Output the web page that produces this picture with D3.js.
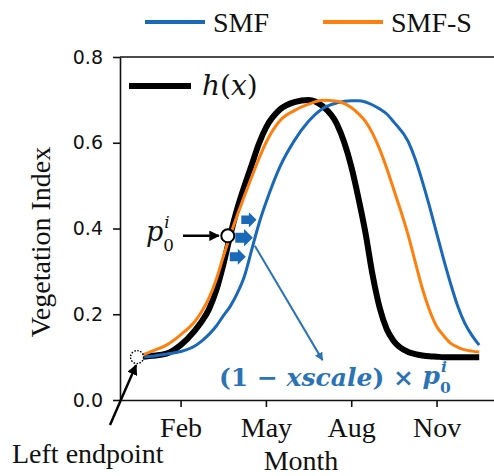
<!DOCTYPE html>
<html lang="en">
  <head>
    <meta charset="UTF-8" />
    <title>SMF vs SMF-S</title>
    <script src="https://d3js.org/d3.v7.min.js"></script>
    <style>
      body { margin: 0; background: #fff; }
      svg { display: block; background: #fff; }
      .axis path, .axis line { stroke: #111; stroke-width: 1.6px; }
      .yaxis text { font-family: "DejaVu Sans", sans-serif; font-size: 19px; fill: #111; }
      .xaxis text { font-family: "Liberation Serif", "Times New Roman", serif; font-size: 28px; fill: #111; }
      .serif { font-family: "Liberation Serif", "Times New Roman", serif; font-size: 28px; fill: #111; }
      .math { font-family: "DejaVu Serif", serif; }
    </style>
  </head>
  <body>
    <svg id="chart" width="494" height="476"></svg>

    <script>
      // 1. Data (x = month number, Jan = 1)
      const months = [0.47, 1, 1.5, 2, 2.5, 2.75, 3, 3.25, 3.5, 3.75, 4, 4.25, 4.5, 4.75, 5, 5.5, 6, 6.5, 7,
        7.5, 8, 8.25, 8.5, 8.75, 9, 9.25, 9.5, 10, 10.25, 10.5, 10.75, 11, 11.25, 11.5, 11.75, 12, 12.25, 12.5];
      const hValues = [0.100, 0.103, 0.108, 0.128, 0.162, 0.184, 0.212, 0.255, 0.315, 0.385, 0.448, 0.500, 0.548,
        0.597, 0.635, 0.678, 0.695, 0.700, 0.685, 0.643, 0.545, 0.472, 0.390, 0.292, 0.215, 0.165, 0.137,
        0.112, 0.107, 0.104, 0.102, 0.101, 0.100, 0.100, 0.100, 0.100, 0.100, 0.100];
      const smfValues = [0.100, 0.102, 0.107, 0.113, 0.126, 0.138, 0.153, 0.172, 0.196, 0.219, 0.250, 0.290, 0.350,
        0.410, 0.460, 0.545, 0.605, 0.650, 0.680, 0.693, 0.698, 0.698, 0.695, 0.688, 0.679, 0.667, 0.648,
        0.603, 0.562, 0.510, 0.452, 0.390, 0.328, 0.270, 0.218, 0.178, 0.150, 0.128];
      const smfsValues = [0.100, 0.114, 0.128, 0.152, 0.183, 0.207, 0.238, 0.280, 0.334, 0.385, 0.432, 0.477, 0.520,
        0.562, 0.600, 0.652, 0.675, 0.690, 0.699, 0.697, 0.682, 0.668, 0.650, 0.622, 0.585, 0.540, 0.490,
        0.385, 0.322, 0.260, 0.210, 0.172, 0.150, 0.132, 0.123, 0.117, 0.114, 0.112];
      const monthTicks = [2, 5, 8, 11];
      const monthLabels = ["Feb", "May", "Aug", "Nov"];
      const yTicks = [0, 0.2, 0.4, 0.6, 0.8];
      const p0Point = [3.66, 0.383];
      const leftEndpoint = [0.47, 0.1];
      const smfAtP0 = [4.61, 0.383];
      const xscaleTip = [6.99, 0.093];

      const blue = "#1a68b8";
      const orange = "#ff7f0e";
      const noteBlue = "#2b73b5";

      // 2. Scales
      const x = d3.scaleLinear().domain([-0.13, 13.02]).range([120, 494]);
      const y = d3.scaleLinear().domain([0, 0.8]).range([400, 57]);

      const svg = d3.select("#chart");

      const defs = svg.append("defs");
      function marker(id, color) {
        defs.append("marker")
          .attr("id", id)
          .attr("viewBox", "0 0 10 10")
          .attr("refX", 9).attr("refY", 5)
          .attr("markerWidth", 4.2).attr("markerHeight", 4.2)
          .attr("markerUnits", "strokeWidth")
          .attr("orient", "auto")
          .append("path")
          .attr("d", "M0,0L10,5L0,10z")
          .attr("fill", color);
      }
      marker("arrK", "#000");
      marker("arrB", noteBlue);

      // 3. Axes
      svg.append("g")
        .attr("class", "axis yaxis")
        .attr("transform", `translate(${x.range()[0]},0)`)
        .call(d3.axisLeft(y).tickValues(yTicks).tickFormat(d3.format(".1f"))
          .tickSize(7).tickSizeOuter(0).tickPadding(10));

      svg.append("g")
        .attr("class", "axis xaxis")
        .attr("transform", `translate(0,${y(0)})`)
        .call(d3.axisBottom(x).tickValues(monthTicks).tickFormat((d, i) => monthLabels[i])
          .tickSize(7).tickSizeOuter(0).tickPadding(10));

      // top spine
      svg.append("line")
        .attr("x1", x.range()[0]).attr("x2", x.range()[1])
        .attr("y1", y(0.8)).attr("y2", y(0.8))
        .attr("stroke", "#111").attr("stroke-width", 1.6);

      svg.append("text").attr("class", "serif")
        .attr("x", 301).attr("y", 470).attr("text-anchor", "middle")
        .text("Month");
      svg.append("text").attr("class", "serif")
        .attr("font-size", 27)
        .attr("transform", "translate(50,242) rotate(-90)")
        .attr("text-anchor", "middle")
        .text("Vegetation Index");

      // 4. Curves
      const line = (vals) => d3.line()
        .x((d, i) => x(months[i]))
        .y((d) => y(d))
        .curve(d3.curveMonotoneX)(vals);

      svg.append("path").attr("d", line(hValues))
        .attr("fill", "none").attr("stroke", "#000").attr("stroke-width", 6);
      svg.append("path").attr("d", line(smfValues))
        .attr("fill", "none").attr("stroke", blue).attr("stroke-width", 3);
      svg.append("path").attr("d", line(smfsValues))
        .attr("fill", "none").attr("stroke", orange).attr("stroke-width", 3);

      // 5. Legends
      const lg = [
        { label: "SMF", color: blue, x0: 145 },
        { label: "SMF-S", color: orange, x0: 323 }
      ];
      lg.forEach((d) => {
        svg.append("line")
          .attr("x1", d.x0).attr("x2", d.x0 + 60).attr("y1", 22).attr("y2", 22)
          .attr("stroke", d.color).attr("stroke-width", 4);
        svg.append("text").attr("class", "serif")
          .attr("x", d.x0 + 68).attr("y", 32).text(d.label);
      });

      svg.append("line")
        .attr("x1", 129).attr("x2", 191).attr("y1", 86).attr("y2", 86)
        .attr("stroke", "#000").attr("stroke-width", 6);
      const hx = svg.append("text").attr("class", "math")
        .attr("x", 202).attr("y", 95).attr("font-size", 28).attr("fill", "#111");
      hx.append("tspan").attr("font-style", "italic").text("h");
      hx.append("tspan").text("(");
      hx.append("tspan").attr("font-style", "italic").text("x");
      hx.append("tspan").text(")");

      // 6. Annotations
      // left endpoint
      svg.append("line")
        .attr("x1", 110).attr("y1", 425)
        .attr("x2", x(leftEndpoint[0]) - 1).attr("y2", y(leftEndpoint[1]) + 8)
        .attr("stroke", "#000").attr("stroke-width", 2.5)
        .attr("marker-end", "url(#arrK)");
      svg.append("circle")
        .attr("cx", x(leftEndpoint[0])).attr("cy", y(leftEndpoint[1])).attr("r", 6.5)
        .attr("fill", "#fff").attr("stroke", "#000").attr("stroke-width", 1.4)
        .attr("stroke-dasharray", "1.5,1.5");
      svg.append("text").attr("class", "serif")
        .attr("x", 12).attr("y", 463).text("Left endpoint");

      // blue shift arrows
      const px0 = x(p0Point[0]), py0 = y(p0Point[1]);
      const shifts = [[13.5, -16, 0.95], [7.5, 2, 1.1], [2, 21, 1.0]];
      shifts.forEach((s) => {
        svg.append("path")
          .attr("transform", `translate(${px0 + s[0]},${py0 + s[1]}) scale(${s[2]})`)
          .attr("d", "M0,-4.5L8,-4.5L8,-8L16,0L8,8L8,4.5L0,4.5z")
          .attr("fill", blue);
      });

      // xscale arrow
      svg.append("line")
        .attr("x1", x(smfAtP0[0])).attr("y1", y(smfAtP0[1]) + 10)
        .attr("x2", x(xscaleTip[0])).attr("y2", y(xscaleTip[1]))
        .attr("stroke", noteBlue).attr("stroke-width", 2)
        .attr("marker-end", "url(#arrB)");

      // p0 label + arrow
      svg.append("line")
        .attr("x1", 183).attr("y1", py0).attr("x2", px0 - 9).attr("y2", py0)
        .attr("stroke", "#000").attr("stroke-width", 2.5)
        .attr("marker-end", "url(#arrK)");
      svg.append("circle")
        .attr("cx", px0).attr("cy", py0).attr("r", 6.5)
        .attr("fill", "#fff").attr("stroke", "#000").attr("stroke-width", 2);

      function supSub(xPos, yPos, base, size, color, weight) {
        const t = svg.append("text").attr("class", "math")
          .attr("x", xPos).attr("y", yPos).attr("font-size", size)
          .attr("font-style", "italic").attr("font-weight", weight).attr("fill", color)
          .text(base);
        const w = t.node().getComputedTextLength();
        svg.append("text").attr("class", "math")
          .attr("x", xPos + w + 1).attr("y", yPos - size * 0.5).attr("font-size", size * 0.62)
          .attr("font-style", "italic").attr("font-weight", weight).attr("fill", color).text("i");
        svg.append("text").attr("class", "math")
          .attr("x", xPos + w).attr("y", yPos + size * 0.36).attr("font-size", size * 0.62)
          .attr("font-weight", weight).attr("fill", color).text("0");
      }
      supSub(146, 241, "p", 27, "#111", "normal");

      const f = svg.append("text").attr("class", "math")
        .attr("x", 219).attr("y", 386).attr("font-size", 25)
        .attr("font-weight", "bold").attr("fill", noteBlue);
      f.append("tspan").text("(1\u00a0−\u00a0");
      f.append("tspan").attr("font-style", "italic").text("xscale");
      f.append("tspan").text(")\u00a0×\u00a0");
      const fw = f.node().getComputedTextLength();
      supSub(219 + fw, 384, "p", 25, noteBlue, "bold");
    </script>
  </body>
</html>
